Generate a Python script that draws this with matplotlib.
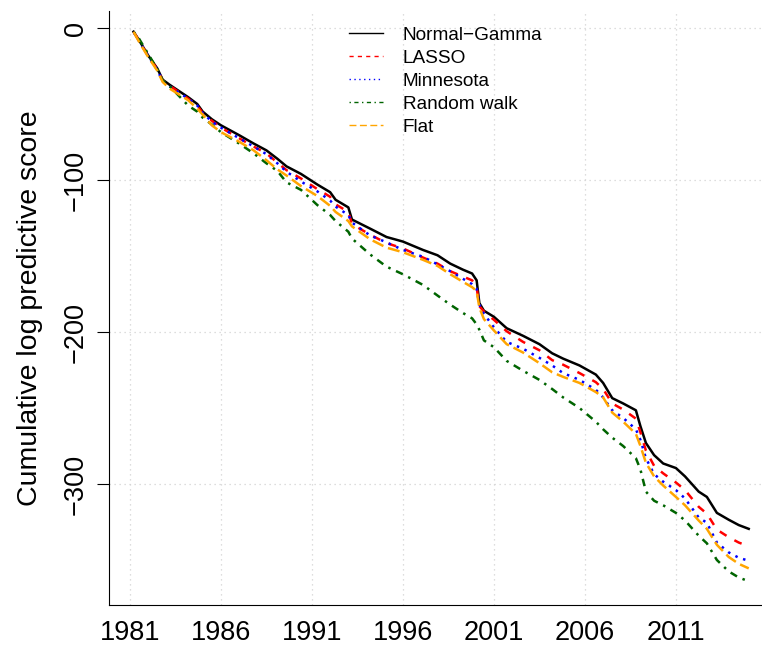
import matplotlib
matplotlib.use("Agg")
import matplotlib.pyplot as plt
from matplotlib.lines import Line2D

years = [1981.2, 1981.5, 1982.0, 1982.5, 1982.8, 1983.2, 1984.2, 1984.7, 1985.0, 1985.5,
         1986.0, 1987.0, 1987.8, 1988.5, 1989.1, 1989.6, 1990.4, 1991.3, 1992.0, 1992.3,
         1993.0, 1993.2, 1994.2, 1995.1, 1996.0, 1997.1, 1997.9, 1998.6, 1999.3, 1999.8,
         2000.05, 2000.2, 2000.45, 2001.0, 2001.7, 2002.6, 2003.5, 2004.2, 2004.8, 2005.7,
         2006.6, 2007.0, 2007.5, 2008.1, 2008.8, 2009.05, 2009.35, 2009.8, 2010.3, 2011.0,
         2011.5, 2012.25, 2012.7, 2013.25, 2013.9, 2014.45, 2015.0]

normal_gamma = [-2.4, -8, -18, -26.5, -34, -37.5, -45.5, -50, -55, -60,
                -64, -70.5, -76, -80.5, -86, -91, -96, -103, -108, -113,
                -118, -126, -132, -137.5, -140.5, -146, -149.5, -155, -159, -161.5,
                -166, -181, -186, -190, -197.5, -202.5, -208, -214, -217.5, -222,
                -228, -233.5, -243.5, -247, -251.5, -262, -273, -281, -286.5, -289.5,
                -295, -305, -308.5, -319, -323.5, -327, -329.5]

lasso = [-2.5, -8.5, -18.5, -27, -34.5, -38, -46.5, -51, -56, -61,
         -65.5, -72.5, -78, -82.5, -88.5, -93.5, -99, -106, -111, -116,
         -121, -129, -136, -141.5, -145, -151, -155, -160, -163.5, -166,
         -170.5, -183, -186.5, -192, -199.5, -206.5, -212, -218.5, -221.5, -227,
         -233, -237.5, -247, -251, -257, -266, -278, -288, -293, -299,
         -304, -315, -319.5, -330, -335, -338.5, -341]

minnesota = [-2.5, -8.5, -18.5, -27.5, -35, -38.5, -46.5, -51, -56, -61.5,
             -65.5, -72.5, -78, -83, -89, -94.5, -101, -107.5, -113.5, -117.5,
             -123, -128, -136.5, -141, -146, -150.5, -155.5, -160, -165, -168.5,
             -171.5, -182, -188, -197, -206.5, -211, -217, -222, -227, -231.5,
             -238, -243, -251.5, -256.5, -264, -271, -283, -293.5, -298.5, -304,
             -309.5, -322, -325.5, -338.5, -345, -348.5, -350.5]

random_walk = [-2.5, -7, -17, -27, -34.5, -38.5, -51, -55, -59, -63.5,
               -68.5, -76, -82.5, -89, -94, -101.5, -106.5, -116.5, -123, -127,
               -134, -138.5, -149, -157, -162, -169, -176, -182, -187.5, -191,
               -195, -198.5, -205.5, -210, -219, -225.5, -231.5, -237.5, -243, -250,
               -259, -264, -269.5, -275, -283, -290.5, -305, -311, -314, -319,
               -324, -334, -339, -350, -357.5, -361.5, -364]

flat = [-2.5, -9, -19, -28, -35.5, -40, -47.5, -53, -57, -64,
        -68.5, -74.8, -80.5, -87, -93, -97, -104, -110.5, -117, -121,
        -127, -130.5, -139, -144.5, -147.5, -152.5, -156.5, -162, -167, -170.5,
        -173, -184, -191.5, -199, -208, -213.5, -220.5, -226.5, -229.5, -233.5,
        -239.5, -243, -253, -259, -267, -275, -286, -295, -301, -308.5,
        -314, -324, -329.5, -340, -348, -352.5, -355.5]

x_ticks = [1981, 1986, 1991, 1996, 2001, 2006, 2011]
y_ticks = [0, -100, -200, -300]
labels = ["Normal\u2212Gamma", "LASSO", "Minnesota", "Random walk", "Flat"]

plt.rcParams['font.family'] = ['Liberation Sans', 'DejaVu Sans']

W, H = 762, 650
fig = plt.figure(figsize=(W / 100, H / 100), dpi=100)
ax = fig.add_axes([109 / W, 45 / H, 664.3 / W, 594 / H])
ax.set_xlim(1979.85, 2016.35)
ax.set_ylim(-379.6, 11.2)

# grid
for xt in x_ticks:
    ax.axvline(xt, color='#D3D3D3', lw=0.9, ls=(0, (1, 3)), zorder=0)
for yt in y_ticks:
    ax.axhline(yt, color='#D3D3D3', lw=0.9, ls=(0, (1, 3)), zorder=0)

lw = 1.8
styles = {
    'ng': ('black', '-'),
    'lasso': ('#FF0000', (0, (3.2, 3.6))),
    'minn': ('#0000FF', (0, (1, 2.3))),
    'rw': ('#006400', (0, (1, 2.4, 3, 2.4))),
    'flat': ('#FFA500', (0, (4.8, 2.0))),
}
ax.plot(years, normal_gamma, color=styles['ng'][0], lw=lw, ls=styles['ng'][1])
ax.plot(years, lasso, color=styles['lasso'][0], lw=lw, ls=styles['lasso'][1])
ax.plot(years, minnesota, color=styles['minn'][0], lw=lw, ls=styles['minn'][1])
ax.plot(years, random_walk, color=styles['rw'][0], lw=lw, ls=styles['rw'][1])
ax.plot(years, flat, color=styles['flat'][0], lw=lw, ls=styles['flat'][1])

for s in ['top', 'right']:
    ax.spines[s].set_visible(False)
for s in ['left', 'bottom']:
    ax.spines[s].set_linewidth(0.8)

ax.set_xticks(x_ticks)
ax.set_xticklabels([str(v) for v in x_ticks], fontsize=19.5)
ax.tick_params(axis='x', length=0, pad=10.5)
ax.set_yticks(y_ticks)
ax.set_yticklabels(["0", "\u2212100", "\u2212200", "\u2212300"], fontsize=19.5, rotation=90, va='center')
ax.tick_params(axis='y', length=8.5, width=0.8, pad=6)
ax.set_ylabel("Cumulative log predictive score", fontsize=20.5)
ax.yaxis.set_label_coords(-0.100, 0.5)

handles = [
    Line2D([], [], color='black', lw=1.0, ls='-'),
    Line2D([], [], color='#FF0000', lw=1.0, ls=(0, (3, 3))),
    Line2D([], [], color='#0000FF', lw=1.0, ls=(0, (1, 2.5))),
    Line2D([], [], color='#006400', lw=1.0, ls=(0, (1, 2.5, 3, 2.5))),
    Line2D([], [], color='#FFA500', lw=1.0, ls=(0, (5, 2.5))),
]
leg = ax.legend(handles, labels, loc='upper left', bbox_to_anchor=(343 / W, 1 - 21 / H),
                bbox_transform=fig.transFigure, frameon=False, fontsize=13.7,
                handlelength=1.8, handletextpad=1.05, labelspacing=0.3, borderaxespad=0,
                borderpad=0.3)

fig.savefig("out.png", dpi=100)
